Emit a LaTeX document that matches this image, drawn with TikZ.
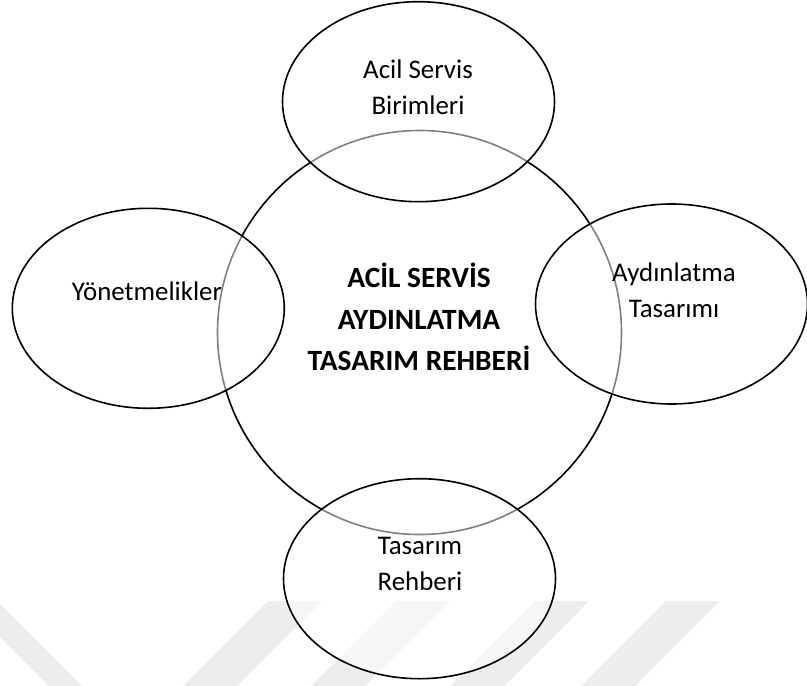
\documentclass[tikz,border=0pt]{standalone}
\usepackage{fontspec}
\setmainfont{Carlito}
\usetikzlibrary{shapes.geometric}
\begin{document}
\begin{tikzpicture}[x=1bp,y=-1bp,
        oval/.style={ellipse,draw=black,line width=1.6bp,fill=white,fill opacity=0.5,
            minimum width=272bp,minimum height=200bp,inner sep=0pt},
        lbl/.style={align=center,inner sep=0pt,font=\fontsize{27}{36}\selectfont}]
        \useasboundingbox (0,0) rectangle (807,686);
        \begin{scope}
            \clip (0,0) rectangle (807,686);
            \foreach \x in {268,396,535,666}
                \fill[black!7] (\x,601) -- ++(54,0) -- ++(-85,85) -- ++(-54,0) -- cycle;
            \fill[black!7] (-36,601) -- (-3,601) -- (82,686) -- (49,686) -- cycle;
        \end{scope}
        \node[circle,draw=black,line width=1.6bp,minimum size=404bp,inner sep=0pt] (rehber) at (419.5,332.5) {};
        \node[oval] (birim) at (418.5,101.7) {};
        \node[oval] (yonet) at (148.3,308.3) {};
        \node[oval] (aydin) at (671.5,304) {};
        \node[oval] (tasar) at (419.5,578.7) {};
        \node[lbl] (birimtxt) at (418,87) {Acil Servis\\Birimleri};
        \node[lbl] (yonettxt) at (147,291) {Yönetmelikler};
        \node[lbl] (aydintxt) at (674,290) {Aydınlatma\\Tasarımı};
        \node[lbl] (tasartxt) at (420,564) {Tasarım\\Rehberi};
        \node[lbl,font=\bfseries\fontsize{29.5}{41.5}\selectfont] (rehbertxt) at (419,317) {ACİL SERVİS\\AYDINLATMA\\TASARIM REHBERİ};
    \end{tikzpicture}
\end{document}
